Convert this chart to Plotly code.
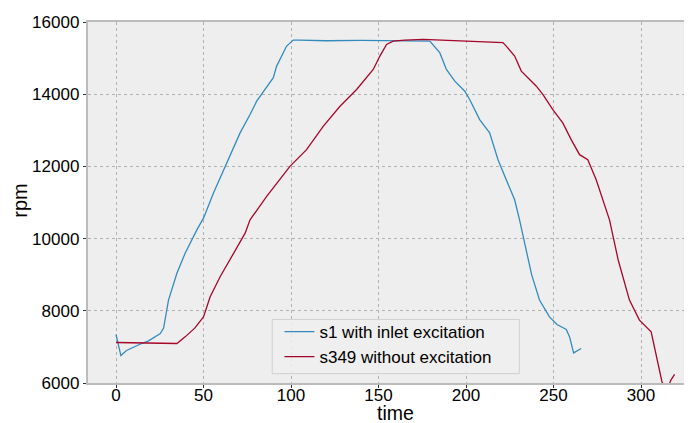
import plotly.graph_objects as go

s1_time = [0, 2.8, 6, 10, 14, 18.6, 22, 25.3, 27.2, 30, 34.8, 39.5, 46.2, 50, 55.7, 63.3, 70.9, 76.6,
           80.4, 89.9, 91.8, 97.5, 101.3, 105, 120, 140, 160, 175, 179.3, 185, 188.8, 193.6, 199.3,
           202.1, 207.8, 213.5, 218.3, 223, 227.8, 230.6, 233, 237.5, 242, 247.7, 252, 257.3, 259.2,
           261.5, 265.8]
s1_rpm = [7344, 6761, 6900, 7000, 7080, 7167, 7270, 7372, 7520, 8297, 9039, 9594, 10242, 10567, 11261,
          12094, 12928, 13436, 13806, 14456, 14778, 15333, 15500, 15500, 15480, 15490, 15480, 15490,
          15472, 15150, 14686, 14361, 14083, 13853, 13297, 12928, 12186, 11631, 11075, 10519, 10000,
          9000, 8300, 7833, 7620, 7483, 7278, 6833, 6956]

s349_time = [0, 10, 20, 34.8, 39.5, 45, 50, 53.8, 59.5, 67.1, 73.8, 76.6, 86.1, 99.4, 108.9, 118.4,
             128, 137.5, 147, 150.8, 154.6, 158.4, 165, 175.5, 185, 200.1, 210, 221.1, 223, 227.8,
             231.6, 236.3, 240.2, 244, 249.6, 255.3, 260.1, 264.9, 269.6, 274.4, 282, 287, 293.4,
             299.1, 305.8, 312, 315, 317, 319.2]
s349_rpm = [7122, 7110, 7100, 7094, 7278, 7520, 7833, 8389, 8944, 9594, 10150, 10519, 11167, 12000,
            12464, 13111, 13667, 14131, 14686, 15056, 15380, 15472, 15500, 15520, 15500, 15455, 15440,
            15428, 15333, 15056, 14639, 14408, 14222, 13991, 13575, 13204, 12741, 12325, 12186, 11631,
            10519, 9400, 8297, 7741, 7417, 6028, 5800, 6075, 6240]

x_ticks = [0, 50, 100, 150, 200, 250, 300]
y_ticks = [6000, 8000, 10000, 12000, 14000, 16000]
y_tick_labels = [str(v) for v in y_ticks]
x_tick_labels = [str(v) for v in x_ticks]

FONT = "Liberation Sans, Arial, sans-serif"

fig = go.Figure()
fig.add_trace(go.Scatter(x=s1_time, y=s1_rpm, mode="lines", name="s1 with inlet excitation",
                         line=dict(color="#348ABD", width=1.3)))
fig.add_trace(go.Scatter(x=s349_time, y=s349_rpm, mode="lines", name="s349 without excitation",
                         line=dict(color="#A60628", width=1.3)))

axis_common = dict(showgrid=True, gridcolor="#b2b2b2", griddash="dot", gridwidth=1,
                   showline=True, linecolor="#bcbcbc", linewidth=1.5, mirror=True,
                   ticks="outside", ticklen=3.5, tickcolor="#333333", tickwidth=1,
                   zeroline=False, automargin=False,
                   tickfont=dict(size=17, color="black", family=FONT))

fig.update_xaxes(range=[-16, 328], tickvals=x_ticks, ticktext=x_tick_labels,
                 ticklabelstandoff=-8, **axis_common)
fig.update_yaxes(range=[6000, 16000], tickvals=y_ticks, ticktext=y_tick_labels, **axis_common)

# axis titles
fig.add_annotation(text="time", xref="paper", yref="paper", x=0.51, y=-0.084,
                   xanchor="center", yanchor="middle", showarrow=False,
                   font=dict(size=19.5, color="black", family=FONT))
fig.add_annotation(text="rpm", xref="paper", yref="paper", x=-0.113, y=0.505,
                   xanchor="center", yanchor="middle", showarrow=False, textangle=-90,
                   font=dict(size=20, color="black", family=FONT))

# legend frame (matplotlib-style box)
fig.add_shape(type="rect", xref="paper", yref="paper", x0=0.306, x1=0.7165, y0=0.026, y1=0.176,
              fillcolor="rgba(238,238,238,0.85)", line=dict(color="#d0d0d0", width=1),
              layer="above")

# page body has an 8px margin: size and margins compensate so the plot lands where the reference has it
fig.update_layout(
    width=684, height=415,
    margin=dict(l=80, r=2, t=14, b=40),
    plot_bgcolor="#eeeeee", paper_bgcolor="white",
    font=dict(family=FONT, color="black"),
    legend=dict(x=0.318, y=0.191, xanchor="left", yanchor="top",
                bgcolor="rgba(0,0,0,0)", borderwidth=0,
                font=dict(size=17, family=FONT, color="black")),
    showlegend=True,
)

fig.write_html("out.html")
